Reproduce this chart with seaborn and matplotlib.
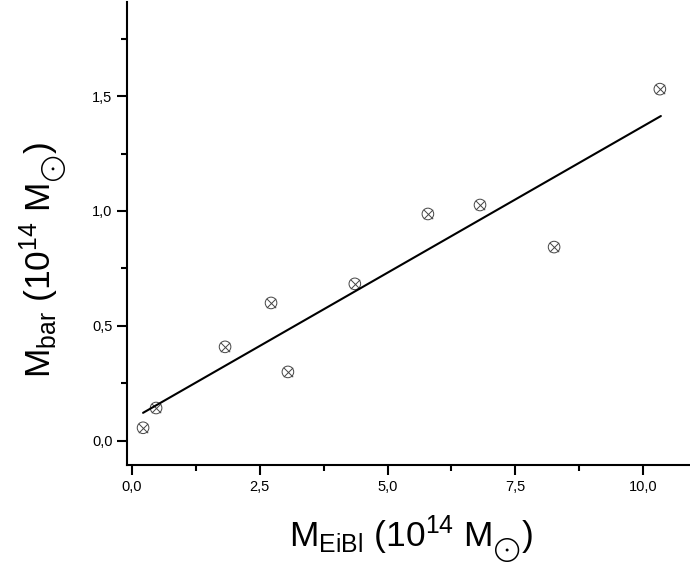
import matplotlib
matplotlib.use("Agg")
import matplotlib.pyplot as plt
import matplotlib.ticker as mticker
import seaborn as sns
import pandas as pd

# data (units of 10^14 solar masses)
m_eibl = [0.215, 0.47, 1.82, 2.72, 3.05, 4.36, 5.79, 6.81, 8.26, 10.33]
m_bar = [0.057, 0.143, 0.409, 0.600, 0.300, 0.683, 0.987, 1.026, 0.843, 1.530]

# linear fit line endpoints as drawn
fit_x = [0.215, 10.35]
fit_y = [0.122, 1.413]

sns.set_style("ticks")
plt.rcParams['font.family'] = ['Liberation Sans', 'DejaVu Sans']
plt.rcParams['mathtext.fontset'] = 'custom'
plt.rcParams['mathtext.rm'] = 'Liberation Sans'
plt.rcParams['mathtext.it'] = 'Liberation Sans:italic'
plt.rcParams['text.color'] = 'black'
plt.rcParams['axes.labelcolor'] = 'black'
plt.rcParams['xtick.color'] = 'black'
plt.rcParams['ytick.color'] = 'black'

df = pd.DataFrame({'x': m_eibl, 'y': m_bar})
fit = pd.DataFrame({'x': fit_x, 'y': fit_y})

fig = plt.figure(figsize=(6.9, 5.71), dpi=100)
ax = fig.add_axes([0.184, 0.186, 0.816, 0.8105])

sns.lineplot(data=fit, x='x', y='y', color='black', linewidth=1.5, ax=ax)
sns.scatterplot(data=df, x='x', y='y', marker='o', s=70, facecolors='none',
                edgecolors='#444444', linewidths=0.7, ax=ax)
sns.scatterplot(data=df, x='x', y='y', marker='x', s=45, color='#444444',
                linewidths=0.7, ax=ax)

ax.set_xlim(-0.1, 10.92)
ax.set_ylim(-0.104, 1.909)

ax.xaxis.set_major_locator(mticker.MultipleLocator(2.5))
ax.xaxis.set_minor_locator(mticker.MultipleLocator(1.25))
ax.yaxis.set_major_locator(mticker.MultipleLocator(0.5))
ax.yaxis.set_minor_locator(mticker.MultipleLocator(0.25))
comma = mticker.FuncFormatter(lambda v, p: f"{v:.1f}".replace('.', ','))
ax.xaxis.set_major_formatter(comma)
ax.yaxis.set_major_formatter(comma)

ax.tick_params(which='major', direction='out', length=7, width=1.5, labelsize=10.5,
               color='black', labelcolor='black')
ax.tick_params(which='minor', direction='out', length=4, width=1.5, color='black')
ax.tick_params(axis='x', pad=4)

sns.despine(ax=ax)
for side in ['left', 'bottom']:
    ax.spines[side].set_linewidth(1.5)
    ax.spines[side].set_color('black')

ax.set_xlabel(r'$\mathrm{M_{EiBl}\ (10^{14}\ M_{{}_{\bigodot}})}$', fontsize=25.5, color='black')
ax.set_ylabel(r'$\mathrm{M_{bar}\ (10^{14}\ M_{{}_{\bigodot}})}$', fontsize=25.5, color='black')
ax.xaxis.set_label_coords(0.505, -0.105)
ax.yaxis.set_label_coords(-0.103, 0.443)

fig.savefig('out.png', dpi=100)
